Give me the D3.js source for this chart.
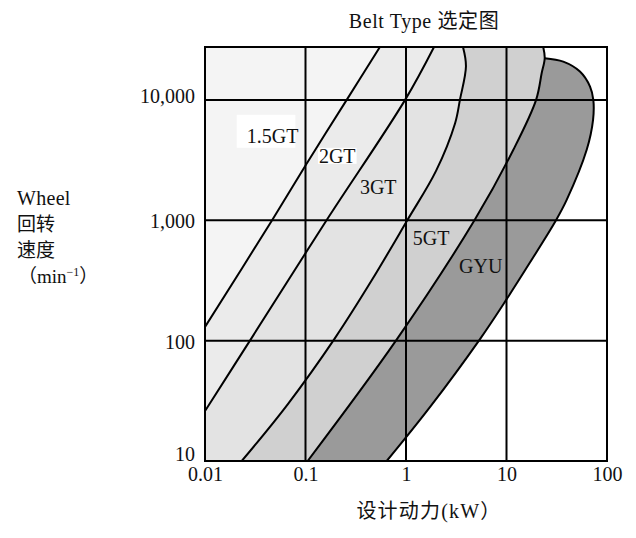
<!DOCTYPE html>
<html>
<head>
<meta charset="utf-8">
<script src="https://cdn.jsdelivr.net/npm/d3@7"></script>
<style>
  body { margin: 0; background: #fff; }
  text { font-family: "Liberation Serif", "Noto Sans CJK SC", serif; fill: #111; }
</style>
</head>
<body>
<svg id="chart" width="636" height="538"></svg>
<script>
// axis ticks
var kwTicks = [0.01, 0.1, 1, 10, 100];
var kwTickLabels = ["0.01", "0.1", "1", "10", "100"];
var rpmTicks = [10, 100, 1000, 10000];
var rpmTickLabels = ["10", "100", "1,000", "10,000"];
var kwMin = 0.01, kwMax = 100, rpmMin = 10, rpmMax = 27500;

// boundary of each belt type, [kW, rpm], read bottom -> top
var line15GT = [[0.01, 130], [0.0465, 1000], [0.1, 2850], [0.257, 10000], [0.55, 27500]];
var line2GT  = [[0.01, 26], [0.028, 100], [0.162, 1000], [0.98, 10000], [1.9, 27500]];
var line3GT  = [[0.0232, 10], [0.0665, 29.6], [0.195, 104], [0.456, 317], [1.03, 1000], [1.99, 2570],
                [3.08, 6400], [3.44, 10000], [3.95, 19000], [3.69, 27500]];
var line5GT  = [[0.105, 10], [0.794, 100], [4.8, 1000], [11.7, 3850], [19.7, 10000], [22.4, 16700], [24.0, 22200], [23.2, 27500]];
var lineGYU  = [[0.643, 10], [1.73, 28], [5.45, 103], [10, 220], [17.1, 445], [31.1, 1000], [39.7, 1475],
                [62.8, 3850], [72.6, 6800], [73.1, 10000], [67.8, 12900], [53.8, 17200], [36.7, 20800], [24.0, 22200]];

// labels
var beltNames = ["1.5GT", "2GT", "3GT", "5GT", "GYU"];
var labelKw  = [0.026, 0.136, 0.348, 1.17, 3.37];
var labelRpm = [4400, 3000, 1655, 624, 365];

var svg = d3.select("#chart");

var x = d3.scaleLog().domain([kwMin, kwMax]).range([205, 607]);
var y = d3.scaleLog().domain([rpmMin, rpmMax]).range([461, 47]);

var line = d3.line()
    .x(function(d) { return x(d[0]); })
    .y(function(d) { return y(d[1]); })
    .curve(d3.curveCatmullRom.alpha(0.5));

svg.append("clipPath").attr("id", "plotClip")
  .append("rect")
    .attr("x", x(kwMin)).attr("y", y(rpmMax))
    .attr("width", x(kwMax) - x(kwMin))
    .attr("height", y(rpmMin) - y(rpmMax));

var plot = svg.append("g").attr("clip-path", "url(#plotClip)");

plot.append("rect")
    .attr("x", x(kwMin)).attr("y", y(rpmMax))
    .attr("width", x(kwMax) - x(kwMin))
    .attr("height", y(rpmMin) - y(rpmMax))
    .style("fill", "#fff");

// region left of a boundary
var leftArea = function(pts) {
  var first = pts[0];
  var cornerRpm = first[0] <= kwMin ? first[1] : rpmMin;
  return line(pts) +
    "L" + x(kwMin) + "," + y(rpmMax) +
    "L" + x(kwMin) + "," + y(cornerRpm) + "Z";
};

// widest first so the narrower ones sit on top
plot.append("path").attr("d", leftArea(line5GT)).style("fill", "#d0d0d0");
plot.append("path").attr("d", leftArea(line3GT)).style("fill", "#e3e3e3");
plot.append("path").attr("d", leftArea(line2GT)).style("fill", "#ebebeb");
plot.append("path").attr("d", leftArea(line15GT)).style("fill", "#f4f4f4");

// GYU band between 5GT edge and GYU edge
var bandPath = line(line5GT.slice(0, 6)) +
    line(lineGYU.slice().reverse()).replace(/^M/, "L") + "Z";
plot.append("path").attr("d", bandPath).style("fill", "#9a9a9a");

// grid
kwTicks.slice(1, -1).forEach(function(k) {
  plot.append("line")
    .attr("x1", x(k)).attr("x2", x(k))
    .attr("y1", y(rpmMin)).attr("y2", y(rpmMax))
    .style("stroke", "#000").style("stroke-width", 2);
});
rpmTicks.slice(1).forEach(function(r) {
  plot.append("line")
    .attr("x1", x(kwMin)).attr("x2", x(kwMax))
    .attr("y1", y(r)).attr("y2", y(r))
    .style("stroke", "#000").style("stroke-width", 2);
});

[line15GT, line2GT, line3GT, line5GT, lineGYU].forEach(function(pts) {
  plot.append("path")
    .attr("d", line(pts))
    .style("fill", "none")
    .style("stroke", "#000")
    .style("stroke-width", 2);
});

svg.append("rect")
    .attr("x", x(kwMin)).attr("y", y(rpmMax))
    .attr("width", x(kwMax) - x(kwMin))
    .attr("height", y(rpmMin) - y(rpmMax))
    .style("fill", "none").style("stroke", "#000").style("stroke-width", 2);

// axes
var yAxis = svg.append("g")
    .attr("transform", "translate(" + x(kwMin) + ",0)")
    .call(d3.axisLeft(y).tickValues(rpmTicks).tickSize(0).tickPadding(10)
      .tickFormat(function(d, i) { return rpmTickLabels[i]; }));
yAxis.select(".domain").remove();
yAxis.selectAll("text")
    .style("font-size", "20px")
    .style("font-family", "'Liberation Serif', serif")
    .attr("dy", function(d) { return d === 10 ? "-0.02em" : (d === 10000 ? "0.14em" : "0.38em"); });

var xAxis = svg.append("g")
    .attr("transform", "translate(0," + y(rpmMin) + ")")
    .call(d3.axisBottom(x).tickValues(kwTicks).tickSize(0).tickPadding(6)
      .tickFormat(function(d, i) { return kwTickLabels[i]; }));
xAxis.select(".domain").remove();
xAxis.selectAll("text")
    .style("font-size", "20px")
    .style("font-family", "'Liberation Serif', serif");

// belt labels, first two sit on white patches
beltNames.forEach(function(name, i) {
  var t = svg.append("text")
    .attr("x", x(labelKw[i]))
    .attr("y", y(labelRpm[i]))
    .style("font-size", "20px")
    .text(name);
  if (i < 2) {
    var b = t.node().getBBox();
    var pad = i === 0 ? [10, 14, -3, 5] : [1, 1, 1, 1];
    svg.insert("rect", function() { return t.node(); })
      .attr("x", b.x - pad[0]).attr("y", b.y - pad[1] + 4)
      .attr("width", b.width + pad[0] + pad[2])
      .attr("height", b.height + pad[1] + pad[3] - 8)
      .style("fill", "#fff");
  }
});

// titles
svg.append("text")
    .attr("x", 424).attr("y", 28)
    .attr("text-anchor", "middle")
    .style("font-size", "20px")
    .style("letter-spacing", "0.6px")
    .text("Belt  Type 选定图");

svg.append("text")
    .attr("x", 429).attr("y", 518)
    .attr("text-anchor", "middle")
    .style("font-size", "20px")
    .style("letter-spacing", "1.2px")
    .text("设计动力(kW）");

var yTitle = svg.append("g");
yTitle.append("text").attr("x", 17).attr("y", 205).style("font-size", "20px").style("letter-spacing", "0.3px").text("Wheel");
yTitle.append("text").attr("x", 17).attr("y", 231).style("font-size", "19px").text("回转");
yTitle.append("text").attr("x", 17).attr("y", 257).style("font-size", "19px").text("速度");
var unit = yTitle.append("text").attr("x", 18).attr("y", 283).style("font-size", "19px");
unit.append("tspan").text("（min");
unit.append("tspan").attr("dy", -7).style("font-size", "12px").text("−1");
unit.append("tspan").attr("dy", 7).text("）");
</script>
</body>
</html>
